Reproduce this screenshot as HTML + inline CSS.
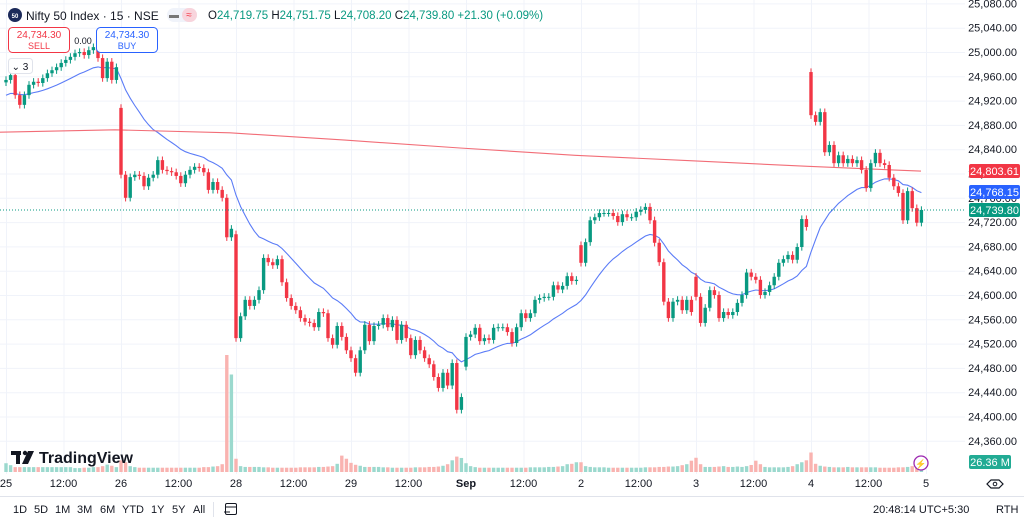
<!DOCTYPE html>
<html><head><meta charset="utf-8">
<style>
body{margin:0;background:#fff;font-family:"Liberation Sans",sans-serif;}
svg text{font-family:"Liberation Sans",sans-serif;}
</style></head>
<body>
<svg id="chart" width="1024" height="523" viewBox="0 0 1024 523" xmlns="http://www.w3.org/2000/svg">
<rect x="0" y="0" width="1024" height="523" fill="#fff"/>
<g id="grid"></g>
<g id="vols"></g>
<g id="ma"></g>
<g id="candles"></g>
<line x1="0" y1="210" x2="965" y2="210" stroke="#089981" stroke-width="1" stroke-dasharray="1,2"/>
<g id="yaxis"></g>
<g id="xaxis"></g>

<!-- header -->
<circle cx="15" cy="15" r="7" fill="#1c2a5a"/>
<text x="15" y="18" font-size="6" fill="#fff" text-anchor="middle" font-weight="bold">50</text>
<text x="26" y="20" font-size="12" fill="#131722">Nifty 50 Index · 15 · NSE</text>
<rect x="167" y="8" width="30" height="14" rx="7" fill="#f0f3fa"/>
<rect x="182" y="8" width="15" height="14" rx="7" fill="#f8d4dc"/>
<text x="174" y="18" font-size="10" fill="#777" text-anchor="middle">▬</text>
<text x="189" y="18" font-size="10" fill="#f23645" text-anchor="middle">≈</text>
<text x="208" y="19" font-size="11.5"><tspan fill="#131722">O</tspan><tspan fill="#089981">24,719.75 </tspan><tspan fill="#131722">H</tspan><tspan fill="#089981">24,751.75 </tspan><tspan fill="#131722">L</tspan><tspan fill="#089981">24,708.20 </tspan><tspan fill="#131722">C</tspan><tspan fill="#089981">24,739.80 +21.30 (+0.09%)</tspan></text>

<g>
<rect x="8.5" y="27.5" width="61" height="25" rx="4" fill="#fff" stroke="#f23645"/>
<text x="39" y="38" font-size="10" fill="#f23645" text-anchor="middle">24,734.30</text>
<text x="39" y="49" font-size="9" fill="#f23645" text-anchor="middle">SELL</text>
</g>
<text x="83" y="44" font-size="9" fill="#131722" text-anchor="middle">0.00</text>
<g>
<rect x="96.5" y="27.5" width="61" height="25" rx="4" fill="#fff" stroke="#2962ff"/>
<text x="127" y="38" font-size="10" fill="#2962ff" text-anchor="middle">24,734.30</text>
<text x="127" y="49" font-size="9" fill="#2962ff" text-anchor="middle">BUY</text>
</g>
<g>
<rect x="8.5" y="58.5" width="24" height="15" rx="3" fill="#fff" stroke="#e0e3eb"/>
<text x="20" y="70" font-size="10" fill="#131722" text-anchor="middle">⌄ 3</text>
</g>

<!-- price tags -->
<g>
<rect x="969" y="164" width="51" height="14" rx="2" fill="#f23645"/>
<text x="994.5" y="175" font-size="11" fill="#fff" text-anchor="middle">24,803.61</text></g>
<g>
<rect x="969" y="185" width="51" height="14" rx="2" fill="#2962ff"/>
<text x="994.5" y="196" font-size="11" fill="#fff" text-anchor="middle">24,768.15</text></g>
<g>
<rect x="969" y="203" width="51" height="14" rx="2" fill="#089981"/>
<text x="994.5" y="214" font-size="11" fill="#fff" text-anchor="middle">24,739.80</text></g>
<g>
<rect x="969" y="455" width="42" height="14" rx="2" fill="#22ab94"/>
<text x="990" y="466" font-size="11" fill="#fff" text-anchor="middle">26.36 M</text></g>

<!-- logo -->
<g>
<rect x="11" y="451" width="10" height="4" fill="#131722"/><rect x="16" y="451" width="4" height="13" fill="#131722"/>
<circle cx="25" cy="453" r="2.2" fill="#131722"/><polygon points="28,451 34,451 28,464 22,464" fill="#131722"/>
<text x="39" y="463" font-size="16" font-weight="bold" fill="#131722">TradingView</text></g>

<circle cx="921" cy="463" r="7" fill="#fff" stroke="#9c27b0" stroke-width="1.3"/>
<text x="921" y="467" font-size="9" fill="#9c27b0" text-anchor="middle">⚡</text>
<g><polygon points="991,480 999,480 1003,484 999,488 991,488 987,484" fill="none" stroke="#131722" stroke-width="1.2"/><circle cx="995" cy="484" r="1.8" fill="none" stroke="#131722"/></g>

<!-- bottom toolbar -->
<line x1="0" y1="496.5" x2="1024" y2="496.5" stroke="#e0e3eb"/>
<g font-size="11" fill="#131722">
<text x="13" y="513">1D</text>
<text x="34" y="513">5D</text>
<text x="55" y="513">1M</text>
<text x="77" y="513">3M</text>
<text x="100" y="513">6M</text>
<text x="122" y="513">YTD</text>
<text x="151" y="513">1Y</text>
<text x="172" y="513">5Y</text>
<text x="193" y="513">All</text>
<text x="873" y="513">20:48:14 UTC+5:30</text>
<text x="996" y="513">RTH</text>
</g>
<line x1="213.5" y1="502" x2="213.5" y2="517" stroke="#e0e3eb"/>
<g fill="none" stroke="#131722" stroke-width="1"><rect x="225.5" y="503.5" width="11" height="11" rx="1.5"/><line x1="225" y1="507" x2="237" y2="507"/><line x1="224" y1="512" x2="230" y2="512"/></g>
</svg>
<script>
const days=["25","26","28","29","Sep","2","3","4","5"];
const timeLabels=["25","12:00","26","12:00","28","12:00","29","12:00","Sep","12:00","2","12:00","3","12:00","4","12:00","5"];
const priceTicks=[25080,25040,25000,24960,24920,24880,24840,24800,24760,24720,24680,24640,24600,24560,24520,24480,24440,24400,24360];
const closes=[
24954,24962,24929,24913,24929,24946,24951,24949,24957,24965,24970,24975,24982,24987,24992,24998,25000,24995,25003,25008,24990,24957,24984,24954,24975,
24798,24760,24794,24798,24796,24779,24793,24798,24822,24806,24804,24802,24796,24784,24798,24806,24811,24809,24802,24773,24786,24773,24760,24695,24709,
24529,24565,24592,24582,24592,24608,24661,24654,24649,24659,24621,24595,24582,24575,24562,24556,24554,24547,24572,24570,24529,24518,24549,24531,24509,
24496,24472,24509,24551,24524,24549,24551,24562,24547,24559,24526,24551,24529,24501,24526,24509,24496,24486,24465,24447,24472,24451,24488,24411,24432,
24531,24535,24546,24524,24529,24526,24546,24547,24547,24539,24521,24547,24570,24562,24570,24592,24595,24597,24597,24616,24609,24615,24631,24623,24625,
24653,24687,24723,24728,24735,24735,24735,24730,24720,24733,24728,24728,24737,24740,24745,24723,24686,24654,24589,24562,24589,24592,24575,24592,24572,
24597,24554,24579,24608,24600,24562,24572,24567,24572,24587,24600,24637,24630,24625,24600,24605,24616,24630,24653,24659,24666,24658,24679,24725,24712,
24896,24885,24901,24835,24847,24817,24830,24817,24824,24817,24822,24806,24776,24817,24834,24817,24814,24793,24779,24768,24723,24771,24743,24719,24740];
const dayOpens=[24950,24908,24700,24509,24482,24682,24630,24967];
const volumes=[
45,35,25,25,25,25,25,25,25,25,25,25,25,25,25,20,20,22,22,25,25,30,38,32,25,
60,50,30,25,22,22,22,22,22,22,22,22,22,22,22,22,22,22,25,25,28,30,40,600,500,
68,30,26,26,26,26,24,24,22,22,22,22,22,22,24,24,24,24,26,26,28,30,42,84,68,
47,37,32,26,26,26,26,24,24,22,22,22,22,22,24,24,24,26,26,28,32,40,60,79,72,
45,30,25,22,22,22,22,22,22,22,22,22,22,22,24,24,24,24,26,26,28,30,40,42,50,
50,30,26,24,24,24,22,22,22,22,22,22,22,22,24,24,24,26,26,28,28,30,35,40,58,
73,40,26,26,26,28,30,26,26,28,26,30,36,58,40,26,24,24,24,24,26,30,40,50,60,
100,42,32,28,26,24,24,24,26,24,24,24,24,24,24,22,22,22,22,24,24,26,30,32,35];
const ma200=[24868,24872,24867,24855,24842,24830,24821,24812,24804,24804];

const NS="http://www.w3.org/2000/svg";
const PW=965, BASE=472;
function yP(p){return 52+(25000-p)*0.6075;}
function xI(i){return 6+i*4.6;}
function yV(v){return BASE-v*0.195;}
function mk(tag,attrs,parent){const e=document.createElementNS(NS,tag);for(const k in attrs)e.setAttribute(k,attrs[k]);parent.appendChild(e);return e;}
const grid=document.getElementById('grid'),yaxis=document.getElementById('yaxis'),xaxis=document.getElementById('xaxis');
priceTicks.forEach(p=>{
  const l=mk('line',{x1:0,x2:PW,y1:yP(p)+0.5,y2:yP(p)+0.5,stroke:'#f0f3fa'},grid);
  
  
  const t=mk('text',{x:1017,y:yP(p)+4,'font-size':11,fill:'#131722','text-anchor':'end'},yaxis);
  t.textContent=p.toLocaleString('en-US')+'.00';
  
  
});
timeLabels.forEach((lab,k)=>{
  const x=6+k*57.5;
  const l=mk('line',{x1:x+0.5,x2:x+0.5,y1:0,y2:474,stroke:'#f0f3fa'},grid);
  
  
  const t=mk('text',{x:x,y:487,'font-size':11,fill:'#131722','text-anchor':'middle','font-weight':lab==='Sep'?'bold':'normal'},xaxis);
  t.textContent=lab;
  
  
});
const cg=document.getElementById('candles'),vg=document.getElementById('vols'),mg=document.getElementById('ma');
closes.forEach((c,i)=>{
  const o=(i%25===0)?dayOpens[i/25]:closes[i-1];
  const up=c>=o, col=up?'#089981':'#f23645';
  const x=xI(i);
  const hi=Math.max(o,c)+6, lo=Math.min(o,c)-6;
  const w=mk('line',{x1:x,x2:x,y1:yP(hi),y2:yP(lo),stroke:col,'stroke-width':1},cg);
  
  
  const top=yP(Math.max(o,c)),h=Math.max(1,yP(Math.min(o,c))-top);
  const b=mk('rect',{x:x-1.7,y:top,width:3.4,height:h,fill:col},cg);
  
  
  const v=mk('rect',{x:x-1.7,y:yV(volumes[i]),width:3.4,height:BASE-yV(volumes[i]),fill:up?'#9bd9ce':'#f9b3b0'},vg);
  
  
});
let e=24926,pts=[];
closes.forEach((c,i)=>{e=e+(c-e)*2/21;pts.push(xI(i).toFixed(1)+','+yP(e).toFixed(1));});
const ema=mk('polyline',{points:pts.join(' '),fill:'none',stroke:'#5b7cf7','stroke-width':1.1},mg);


const rp=ma200.map((p,k)=>(k<9?(k*115):921)+','+yP(p).toFixed(1)).join(' ');
const m2=mk('polyline',{points:rp,fill:'none',stroke:'#f26d77','stroke-width':1.1},mg);


</script>
</body></html>
